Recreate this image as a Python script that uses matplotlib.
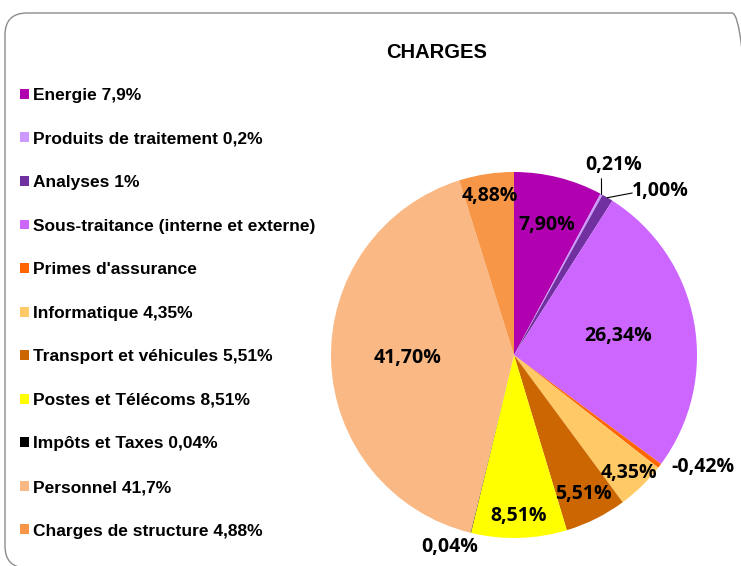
import numpy as np
import matplotlib
matplotlib.use("Agg")
import matplotlib.pyplot as plt
from matplotlib.patches import Patch, FancyBboxPatch

# ---------------- data ----------------
title = "CHARGES"
legend_labels = [
    "Energie 7,9%",
    "Produits de traitement 0,2%",
    "Analyses 1%",
    "Sous-traitance (interne et externe)",
    "Primes d'assurance",
    "Informatique 4,35%",
    "Transport et véhicules 5,51%",
    "Postes et Télécoms 8,51%",
    "Impôts et Taxes 0,04%",
    "Personnel 41,7%",
    "Charges de structure 4,88%",
]
values = [7.90, 0.21, 1.00, 26.34, -0.42, 4.35, 5.51, 8.51, 0.04, 41.70, 4.88]
colors = ["#B000B0", "#CC99FF", "#7030A0", "#CC66FF", "#FF6600", "#FFC966",
          "#CC6600", "#FFFF00", "#000000", "#F9B884", "#F79646"]

# ---------------- style ----------------
label_font = ["Open Sans", "DejaVu Sans"]
legend_font = ["Liberation Sans", "DejaVu Sans"]
# inside label radius (None -> placed outside)
inside_r = [0.73, None, None, 0.58, None, 0.90, 0.85, 0.88, None, 0.58, 0.88]
outside_pos = {1: (0.546, 1.040), 2: (0.798, 0.896), 4: (1.033, -0.612), 8: (-0.350, -1.049)}
leader_end = {1: (0.478, 0.962), 2: (0.645, 0.885)}

W, H = 741, 566
fig = plt.figure(figsize=(W / 100, H / 100), dpi=100)
fig.patch.set_facecolor("white")

# rounded border
border = FancyBboxPatch((0.05, -0.02), 7.49, 5.55,
                        boxstyle="round,pad=0,rounding_size=0.22",
                        transform=fig.dpi_scale_trans, facecolor="none",
                        edgecolor="#8C8C8C", linewidth=1.0, zorder=0)
fig.patches.append(border)

# pie axes
cx, cy, R = 514, 355, 183
ax = fig.add_axes([(cx - R) / W, (H - cy - R) / H, 2 * R / W, 2 * R / H])

absvals = np.abs(values)
wedges, _ = ax.pie(absvals, colors=colors, startangle=90, counterclock=False,
                   radius=1.0, wedgeprops=dict(linewidth=0))
ax.set_xlim(-1, 1)
ax.set_ylim(-1, 1)
ax.set_aspect("equal")
ax.axis("off")

for i, (w, v) in enumerate(zip(wedges, values)):
    txt = f"{v:.2f}".replace(".", ",") + "%"
    mid = np.deg2rad((w.theta1 + w.theta2) / 2)
    if inside_r[i] is not None:
        r = inside_r[i]
        x, y = r * np.cos(mid), r * np.sin(mid)
    else:
        x, y = outside_pos[i]
        if i in leader_end:
            ex, ey = np.cos(mid), np.sin(mid)
            lx, ly = leader_end[i]
            ax.plot([ex, lx], [ey, ly], color="black", lw=0.8, clip_on=False)
    ax.text(x, y, txt, ha="center", va="center", fontsize=14,
            fontweight="bold", family=label_font, color="black")

# title
fig.text(437 / W, 1 - 52 / H, title, ha="center", va="center",
         fontsize=14.5, fontweight="bold", family=legend_font)

# legend
handles = [Patch(facecolor=c, edgecolor="none") for c in colors]
leg = fig.legend(handles, legend_labels, loc="upper left",
                 bbox_to_anchor=(20 / W, 1 - 88 / H), frameon=False,
                 prop=dict(family=legend_font, weight="bold", size=12.5),
                 handlelength=0.5, handleheight=0.5, handletextpad=0.25,
                 labelspacing=1.645, borderpad=0, borderaxespad=0)

fig.savefig("out.png", dpi=100)
